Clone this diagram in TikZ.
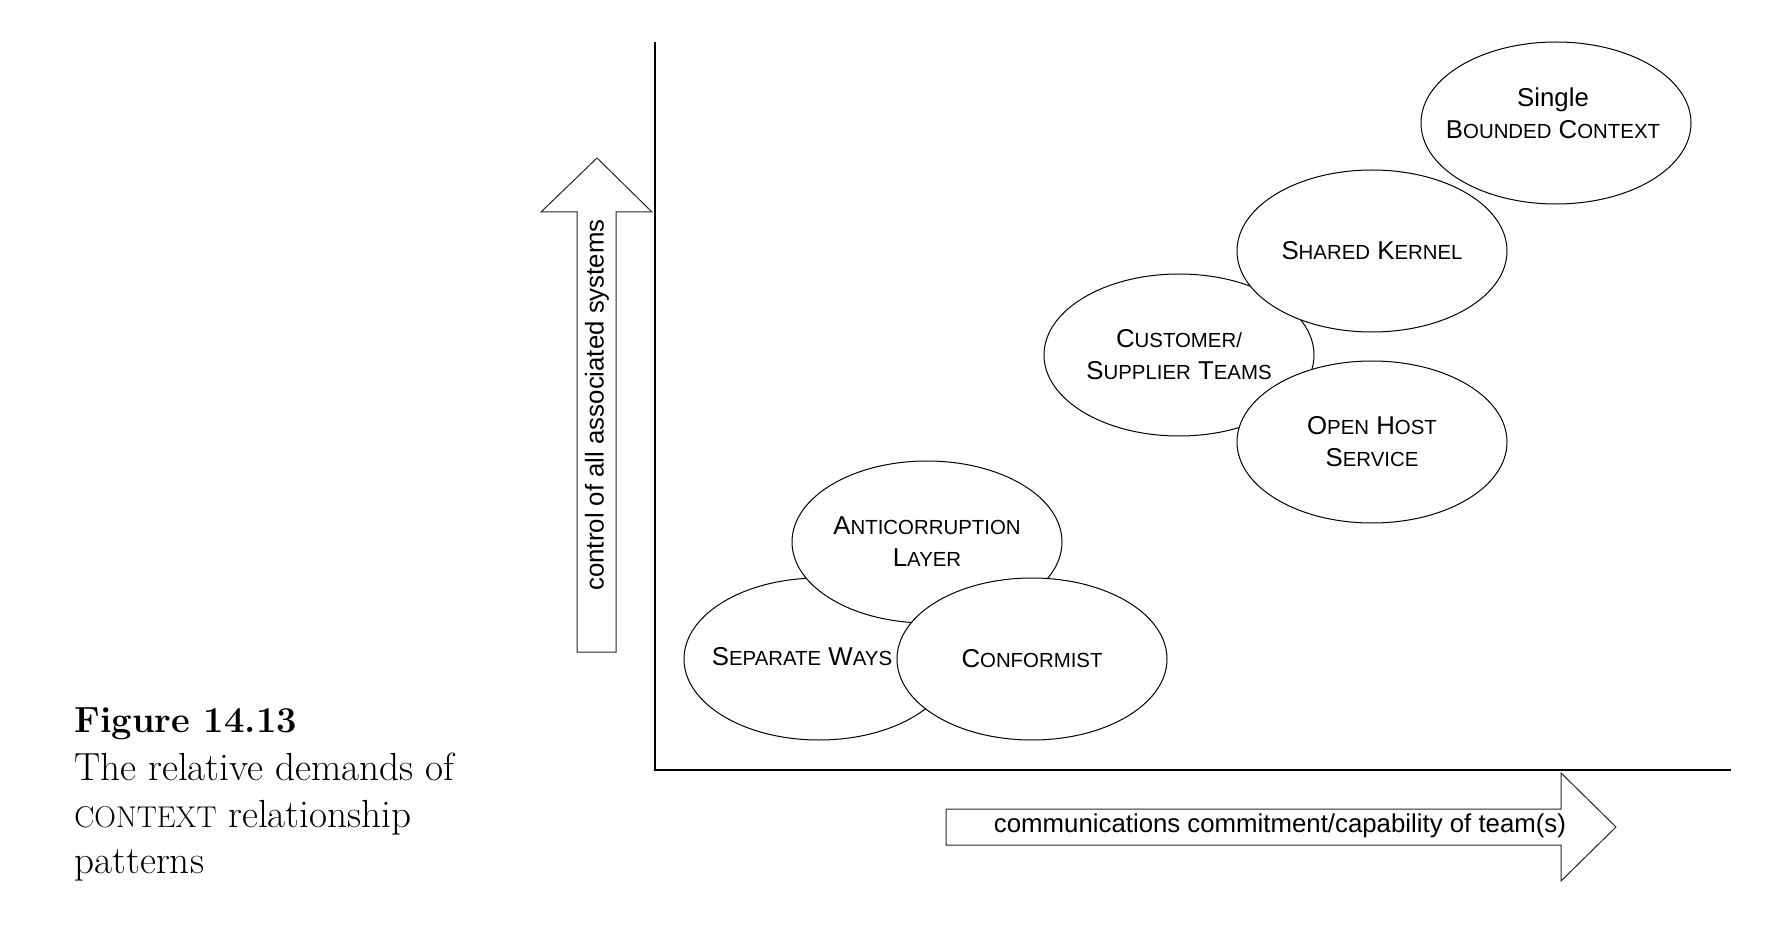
\documentclass[tikz,border=0pt]{standalone}
\usepackage{fontspec}
\newfontfamily\arial{Liberation Sans}
\usetikzlibrary{shapes.geometric}
\newcommand\capA{\fontsize{12.9}{16}\selectfont}
\newcommand\capB{\fontsize{10.2}{16}\selectfont}
\newcommand\Sc[2]{{\capA #1}{\capB #2}}
\tikzset{
  patt/.style={ellipse, draw=black, line width=0.5pt, fill=white, minimum width=135pt, minimum height=81pt, inner sep=0pt},
  ptext/.style={font=\arial\capA, align=center, inner sep=0pt},
  fatarrow/.style={draw=black!85, line width=0.5pt, fill=white},
  axisline/.style={draw=black, line width=0.8pt},
  capline/.style={anchor=base west, inner sep=0pt, font=\fontsize{19.6}{23.5}\selectfont}
}
\begin{document}
\begin{tikzpicture}[x=0.5pt,y=-0.5pt]
\useasboundingbox (0,0) rectangle (1772,930);
% axes
\coordinate (ytop) at (655,42);
\coordinate (orig) at (655,770);
\coordinate (xend) at (1731,770);
\draw[axisline] (ytop) -- (orig) -- (xend);
% up arrow
\draw[fatarrow] (577,652) -- (577,212) -- (541,212) -- (597,158) -- (652,212) -- (616,212) -- (616,652) -- cycle;
\node[font=\arial\capA, rotate=90, inner sep=0pt] (ylab) at (597,405) {control of all associated systems};
% right arrow
\draw[fatarrow] (946,809) -- (1561,809) -- (1561,773) -- (1616,827) -- (1561,881) -- (1561,845) -- (946,845) -- cycle;
\node[font=\arial\capA, inner sep=0pt] (xlab) at (1280,826) {communications commitment/capability of team(s)};
% lower group
\node[patt] (sw) at (819,659) {};
\node[patt] (acl) at (927,542) {};
\node[patt] (conf) at (1032,659) {};
\node[ptext] (swt) at (802,657) {\Sc{S}{EPARATE} \Sc{W}{AYS}};
\node[ptext] (aclt) at (927,542) {\Sc{A}{NTICORRUPTION}\\\Sc{L}{AYER}};
\node[ptext] (conft) at (1032,659) {\Sc{C}{ONFORMIST}};
% upper group
\node[patt] (sbc) at (1556,123) {};
\node[patt] (cst) at (1179,355) {};
\node[patt] (sk) at (1372,251) {};
\node[patt] (ohs) at (1372,442) {};
\node[ptext] (sbct) at (1553,113) {Single\\\Sc{B}{OUNDED} \Sc{C}{ONTEXT}};
\node[ptext] (cstt) at (1179,355) {\Sc{C}{USTOMER/}\\\Sc{S}{UPPLIER} \Sc{T}{EAMS}};
\node[ptext] (skt) at (1372,251) {\Sc{S}{HARED} \Sc{K}{ERNEL}};
\node[ptext] (ohst) at (1372,442) {\Sc{O}{PEN} \Sc{H}{OST}\\\Sc{S}{ERVICE}};
% caption
\node[capline, font=\fontsize{18.2}{23.5}\selectfont] (c1) at (74,732) {\bfseries Figure 14.13};
\node[capline] (c2) at (74,780) {The relative demands of};
\node[capline] (c3) at (74,827) {{\fontsize{15}{18}\selectfont CONTEXT} relationship};
\node[capline] (c4) at (74,873) {patterns};
\end{tikzpicture}
\end{document}
